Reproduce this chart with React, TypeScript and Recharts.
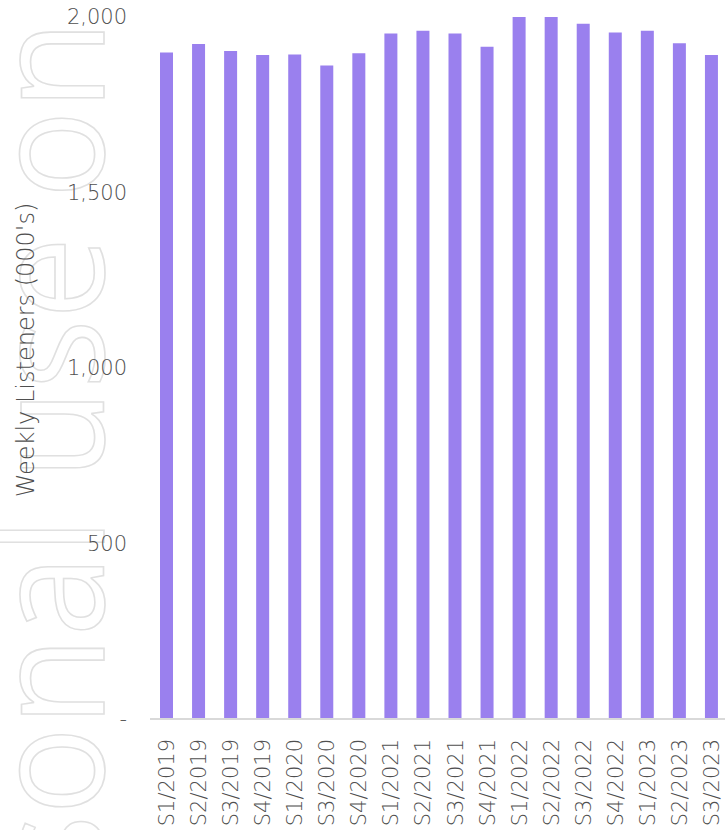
import { BarChart, Bar, XAxis, YAxis } from 'recharts';

const periods = [
  'S1/2019', 'S2/2019', 'S3/2019', 'S4/2019', 'S1/2020', 'S3/2020', 'S4/2020',
  'S1/2021', 'S2/2021', 'S3/2021', 'S4/2021', 'S1/2022', 'S2/2022', 'S3/2022',
  'S4/2022', 'S1/2023', 'S2/2023', 'S3/2023',
];
const listeners = [
  1899, 1923, 1903, 1892, 1893, 1862, 1897, 1953, 1961, 1953, 1915, 2000, 2000,
  1981, 1956, 1961, 1925, 1892,
];
const yTicks = [0, 500, 1000, 1500, 2000];

const data = periods.map((p, i) => ({ period: p, value: listeners[i] }));

const FONT = '"DejaVu Sans", sans-serif';
const GREY = '#4f4f4f';

function XTick({ x, y, payload }: any) {
  return (
    <text
      transform={`translate(${x + 1},${y + 12}) rotate(-90)`}
      textAnchor="end"
      dominantBaseline="central"
      fill={GREY}
      fontSize={21}
      fontFamily={FONT}
      fontWeight={200}
    >
      {payload.value}
    </text>
  );
}

function YTick({ x, y, payload }: any) {
  const v = payload.value as number;
  return (
    <text
      x={x}
      y={y}
      textAnchor="end"
      dominantBaseline="central"
      fill={GREY}
      fontSize={21}
      fontFamily={FONT}
      fontWeight={200}
    >
      {v === 0 ? '-' : v.toLocaleString('en-US')}
    </text>
  );
}

function YLabel({ viewBox }: any) {
  const cy = viewBox.y + viewBox.height / 2 - 18;
  return (
    <text
      transform={`translate(26,${cy}) rotate(-90)`}
      textAnchor="middle"
      dominantBaseline="central"
      fill={GREY}
      fontSize={24}
      fontFamily={FONT}
      fontWeight={200}
    >
      Weekly Listeners (000's)
    </text>
  );
}

export default function App() {
  return (
    <div style={{ position: 'absolute', left: 0, top: 0, width: 725, height: 830, overflow: 'hidden', background: '#fff' }}>
      {/* watermark */}
      <svg width={725} height={830} style={{ position: 'absolute', left: 0, top: 0 }}>
        <text
          transform="translate(104,885) rotate(-90)"
          fontSize={154}
          fontFamily='"Open Sans", sans-serif'
          fill="none"
          stroke="#e0e0e0"
          strokeWidth={1.6}
          textLength={865}
          lengthAdjust="spacingAndGlyphs"
        >
          sonal use on
        </text>
      </svg>
      <div style={{ position: 'absolute', left: 0, top: 0 }}>
        <BarChart width={727} height={830} data={data} margin={{ top: 17, right: 0, left: 0, bottom: 0 }}>
          <XAxis
            dataKey="period"
            height={111}
            interval={0}
            tick={<XTick />}
            tickLine={false}
            axisLine={{ stroke: '#d9d9d9', strokeWidth: 2 }}
          />
          <YAxis
            width={150}
            domain={[0, 2000]}
            ticks={yTicks}
            tickLine={false}
            axisLine={false}
            tickSize={0}
            tickMargin={23}
            tick={<YTick />}
            label={<YLabel />}
          />
          <Bar dataKey="value" fill="#9a80ee" barSize={13} isAnimationActive={false} />
        </BarChart>
      </div>
    </div>
  );
}
